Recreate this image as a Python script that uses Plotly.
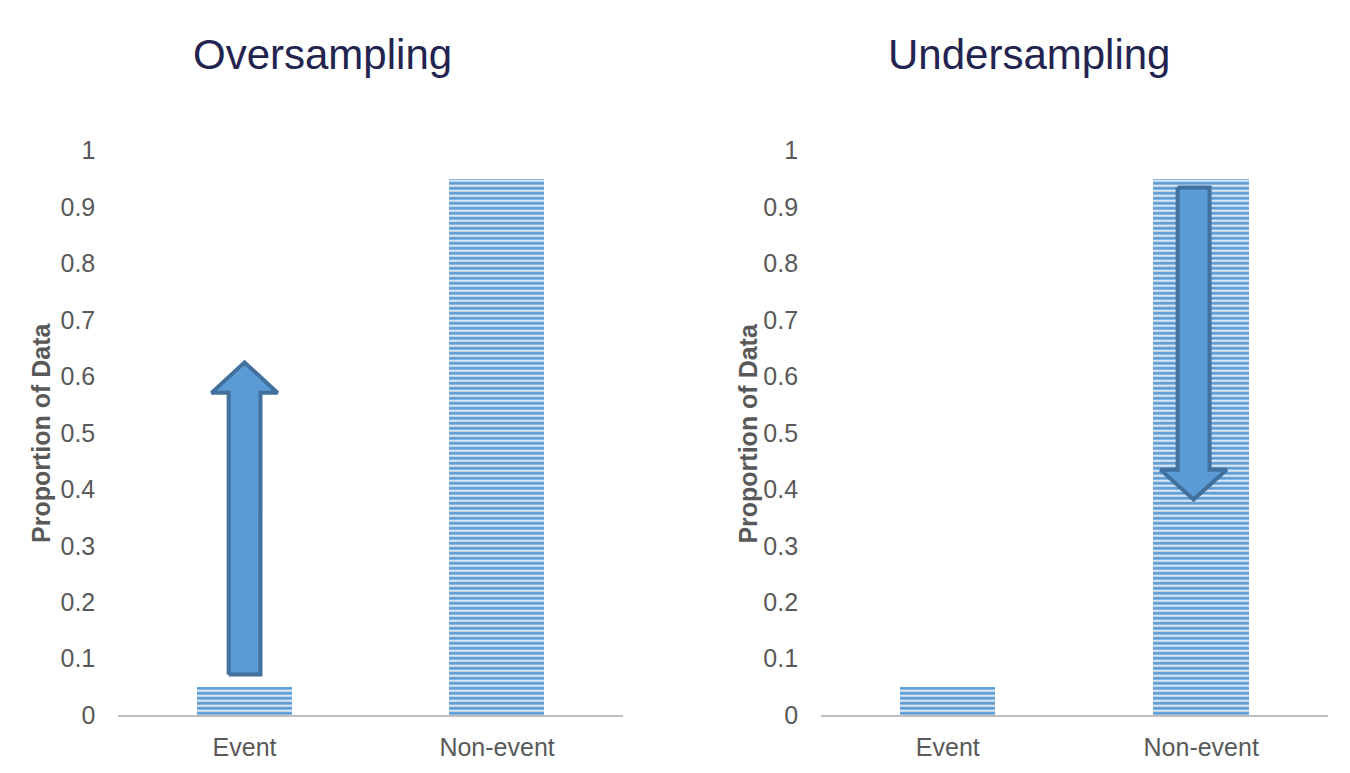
import plotly.graph_objects as go

categories = ["Event", "Non-event"]
oversampling_values = [0.05, 0.95]
undersampling_values = [0.05, 0.95]
y_ticks = [0, 0.1, 0.2, 0.3, 0.4, 0.5, 0.6, 0.7, 0.8, 0.9, 1]
y_tick_labels = ["0", "0.1", "0.2", "0.3", "0.4", "0.5", "0.6", "0.7", "0.8", "0.9", "1"]
panel_titles = ["Oversampling", "Undersampling"]

# arrows: (category position, shaft start, head base, tip)
over_arrow = [0, 0.072, 0.571, 0.625]
under_arrow = [0.97, 0.935, 0.435, 0.382]

FONT = "Arial, Liberation Sans, sans-serif"
BAR_FG = "#5b9bd5"
BAR_BG = "#dae7f5"

fig = go.Figure()

def arrow_poly(a, shaft_hw=0.063, head_hw=0.131):
    xc, y0, yb, yt = a
    xs = [xc - shaft_hw, xc - shaft_hw, xc - head_hw, xc, xc + head_hw, xc + shaft_hw, xc + shaft_hw, xc - shaft_hw]
    ys = [y0, yb, yb, yt, yb, yb, y0, y0]
    return xs, ys

for i, (vals, arrow) in enumerate([(oversampling_values, over_arrow), (undersampling_values, under_arrow)]):
    xa = "x" if i == 0 else "x2"
    ya = "y" if i == 0 else "y2"
    fig.add_trace(go.Bar(
        x=list(range(len(categories))), y=vals, width=0.377,
        xaxis=xa, yaxis=ya,
        marker=dict(color=BAR_BG, line=dict(width=0),
                    pattern=dict(shape="-", size=5, solidity=0.55, fgcolor=BAR_FG,
                                 bgcolor=BAR_BG, fillmode="replace")),
        showlegend=False, hoverinfo="skip"))
    xs, ys = arrow_poly(arrow)
    fig.add_trace(go.Scatter(
        x=xs, y=ys, xaxis=xa, yaxis=ya, mode="lines", fill="toself",
        fillcolor="#5b9bd5", line=dict(color="#41719c", width=4),
        showlegend=False, hoverinfo="skip"))

ydom = [0.0696, 0.8272]
xdoms = [[0.0817, 0.4558], [0.6023, 0.9777]]

for i in range(2):
    sfx = "" if i == 0 else "2"
    fig.update_layout(**{
        f"xaxis{sfx}": dict(
            domain=xdoms[i], range=[-0.5, 1.5], tickmode="array",
            tickvals=list(range(len(categories))), ticktext=categories,
            showgrid=False, zeroline=False, showline=True, linecolor="#bfbfbf",
            linewidth=2, ticks="", ticklabelstandoff=9,
            tickfont=dict(family=FONT, size=25, color="#595959"),
            anchor="y" + sfx, fixedrange=True),
        f"yaxis{sfx}": dict(
            domain=ydom, range=[0, 1], tickmode="array", tickvals=y_ticks,
            ticktext=y_tick_labels, showgrid=False, zeroline=False,
            showline=False, ticks="", ticklabelstandoff=22,
            tickfont=dict(family=FONT, size=25, color="#595959"),
            anchor="x" + sfx, fixedrange=True),
    })

annotations = []
title_x = [0.2331, 0.7565]
for i in range(2):
    annotations.append(dict(
        text=panel_titles[i], x=title_x[i], y=0.9562, xref="paper", yref="paper",
        showarrow=False, xanchor="center", yanchor="middle",
        font=dict(family=FONT, size=42, color="#232350")))
ytitle_x = [0.0245, 0.5479]
for i in range(2):
    annotations.append(dict(
        text="<b>Proportion of Data</b>", x=ytitle_x[i], y=(ydom[0] + ydom[1]) / 2,
        xref="paper", yref="paper", showarrow=False, textangle=-90,
        xanchor="center", yanchor="middle",
        font=dict(family=FONT, size=25, color="#595959")))

fig.update_layout(
    width=1350, height=773, margin=dict(l=0, r=0, t=0, b=0),
    paper_bgcolor="white", plot_bgcolor="white",
    annotations=annotations, bargap=0)

fig.write_html("out.html")
